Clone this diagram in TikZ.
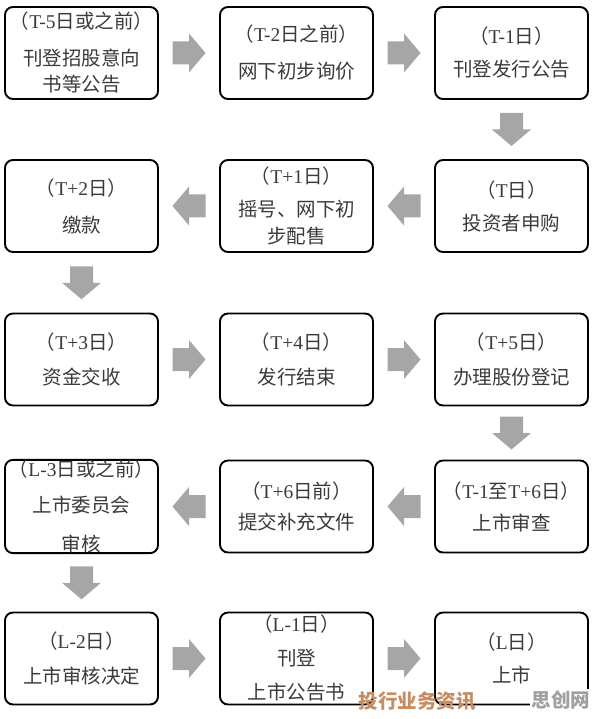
\documentclass[tikz,border=0pt]{standalone}
\usepackage{fontspec}
\setmainfont{Liberation Serif}
\newfontfamily\cjk{Noto Sans CJK SC}
\usetikzlibrary{calc}
\definecolor{arrgray}{HTML}{A6A6A6}
\definecolor{txtgray}{HTML}{3A3A3A}
\definecolor{wmorange}{HTML}{C68D62}
\definecolor{wmgray}{HTML}{A0A0A0}
\newcommand\lat[1]{{\rmfamily #1}}
\newcommand\blockarrow[2]{%
  \fill[arrgray,shift={#1},rotate=#2] (-16.5,-11.5) -- (0,-11.5) -- (0,-19.5) -- (16.5,0) -- (0,19.5) -- (0,11.5) -- (-16.5,11.5) -- cycle;}
\tikzset{
  stepbox/.style={draw=black, line width=1.9pt, rounded corners=8pt,
    minimum width=153pt, minimum height=92pt, inner sep=0pt, align=center,
    text=txtgray, font=\cjk\fontsize{19.5}{23}\selectfont},
  wm/.style={font=\cjk\bfseries\fontsize{19.5}{19.5}\selectfont, inner sep=2pt}
}
\begin{document}
\begin{tikzpicture}[x=1pt,y=-1pt]
\useasboundingbox (0,0) rectangle (596,719);
% row 1
\node[stepbox] (b1) at (81.5,53) {（\lat{T-5}日或之前）\\[14pt]刊登招股意向\\[3pt]书等公告};
\node[stepbox] (b2) at (296.5,53) {（\lat{T-2}日之前）\\[14pt]网下初步询价};
\node[stepbox] (b3) at (511.5,53) {（\lat{T-1}日）\\[10pt]刊登发行公告};
% row 2
\node[stepbox] (b6) at (511.5,206) {（\lat{T}日）\\[10pt]投资者申购};
\node[stepbox] (b5) at (296.5,206) {（\lat{T+1}日）\\[10pt]摇号、网下初\\[4pt]步配售};
\node[stepbox] (b4) at (81.5,206) {（\lat{T+2}日）\\[14pt]缴款};
% row 3
\node[stepbox] (b7) at (81.5,359.5) {（\lat{T+3}日）\\[12pt]资金交收};
\node[stepbox] (b8) at (296.5,359.5) {（\lat{T+4}日）\\[12pt]发行结束};
\node[stepbox] (b9) at (511.5,359.5) {（\lat{T+5}日）\\[12pt]办理股份登记};
% row 4
\node[stepbox] (b12) at (511.5,506.5) {（\lat{T-1}至\lat{T+6}日）\\[9pt]上市审查};
\node[stepbox] (b11) at (296.5,506.5) {（\lat{T+6}日前）\\[8pt]提交补充文件};
\node[stepbox] (b10) at (81.5,506.5) {（\lat{L-3}日或之前）\\[13pt]上市委员会\\[16pt]审核};
% row 5
\node[stepbox] (b13) at (81.5,658.5) {（\lat{L-2}日）\\[12pt]上市审核决定};
\node[stepbox] (b14) at (296.5,658.5) {（\lat{L-1}日）\\[11pt]刊登\\[11pt]上市公告书};
\node[stepbox] (b15) at (511.5,658.5) {（\lat{L}日）\\[10pt]上市};
% connectors
\blockarrow{($(b1.east)!.5!(b2.west)$)}{0}
\blockarrow{($(b2.east)!.5!(b3.west)$)}{0}
\blockarrow{($(b3.south)!.5!(b6.north)$)}{-90}
\blockarrow{($(b6.west)!.5!(b5.east)$)}{180}
\blockarrow{($(b5.west)!.5!(b4.east)$)}{180}
\blockarrow{($(b4.south)!.5!(b7.north)$)}{-90}
\blockarrow{($(b7.east)!.5!(b8.west)$)}{0}
\blockarrow{($(b8.east)!.5!(b9.west)$)}{0}
\blockarrow{($(b9.south)!.5!(b12.north)$)}{-90}
\blockarrow{($(b12.west)!.5!(b11.east)$)}{180}
\blockarrow{($(b11.west)!.5!(b10.east)$)}{180}
\blockarrow{($(b10.south)!.5!(b13.north)$)}{-90}
\blockarrow{($(b13.east)!.5!(b14.west)$)}{0}
\blockarrow{($(b14.east)!.5!(b15.west)$)}{0}
% watermarks
\node[wm, text=wmorange] (wm1) at (417,701) {投行业务资讯};
\node[wm, text=wmgray, fill=white] (wm2) at (561,700) {思创网};
\end{tikzpicture}
\end{document}
